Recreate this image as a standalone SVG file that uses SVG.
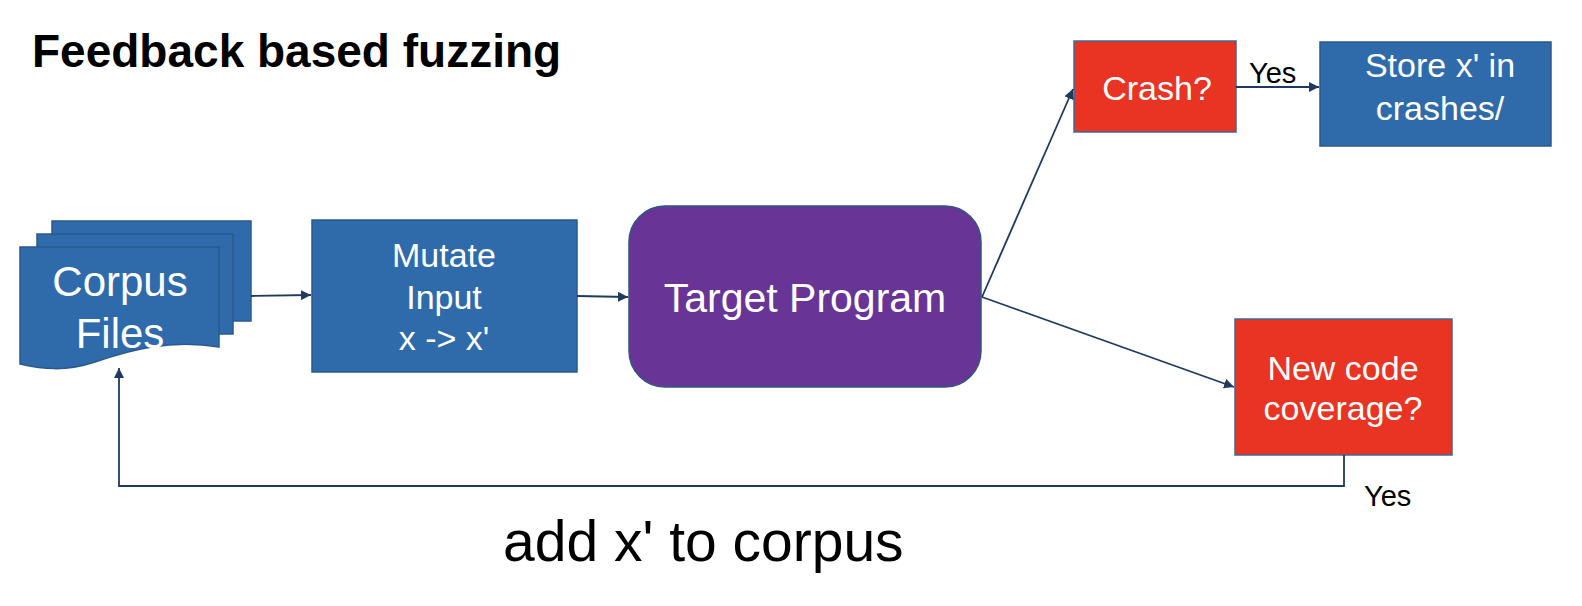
<svg xmlns="http://www.w3.org/2000/svg" width="1582" height="606" viewBox="0 0 1582 606">
<defs>
<style>
.blue{fill:#2F6BAA;stroke:#2A5A8C;stroke-width:1.5}
.red{fill:#E93323;stroke:#3F6A96;stroke-width:1.5}
.purple{fill:#683597;stroke:#2F5580;stroke-width:1.5}
.wt{fill:#FFFFFF;font-family:"Liberation Sans",Arial,sans-serif;text-anchor:middle}
.bt{fill:#000000;font-family:"Liberation Sans",Arial,sans-serif}
.conn{fill:none;stroke:#1E3A60;stroke-width:1.8}
</style>
<marker id="ah" viewBox="0 0 10 10" refX="10" refY="5" markerWidth="10" markerHeight="10" markerUnits="userSpaceOnUse" orient="auto">
<path d="M0,0 L10,5 L0,10 Z" fill="#1E3A60"/>
</marker>
</defs>
<rect width="1582" height="606" fill="#FFFFFF"/>
<text class="bt" x="32" y="67" font-size="46" font-weight="bold">Feedback based fuzzing</text>
<g id="corpus">
<rect class="blue" x="52" y="221" width="199" height="100"/>
<rect class="blue" x="37" y="234" width="196" height="100"/>
<path class="blue" d="M20,247 H219 V347 C170,339 130,350 95,362 C65,372 42,369 20,364 Z"/>
<text class="wt" x="120" y="296" font-size="42">Corpus</text>
<text class="wt" x="120" y="348" font-size="42">Files</text>
</g>
<g id="mutate">
<rect class="blue" x="312" y="220" width="265" height="152"/>
<text class="wt" x="444" y="267" font-size="34">Mutate</text>
<text class="wt" x="444" y="309" font-size="34">Input</text>
<text class="wt" x="444" y="350" font-size="34">x -&gt; x'</text>
</g>
<g id="target">
<rect class="purple" x="629" y="206" width="352" height="181" rx="36" ry="36"/>
<text class="wt" x="805" y="312" font-size="41">Target Program</text>
</g>
<g id="crash">
<rect class="red" x="1074" y="41" width="162" height="91"/>
<text class="wt" x="1157" y="100" font-size="34">Crash?</text>
</g>
<g id="store">
<rect class="blue" x="1320" y="42" width="231" height="104"/>
<text class="wt" x="1440" y="77" font-size="34">Store x' in</text>
<text class="wt" x="1440" y="120" font-size="34">crashes/</text>
</g>
<g id="coverage">
<rect class="red" x="1235" y="319" width="217" height="136"/>
<text class="wt" x="1343" y="380" font-size="34">New code</text>
<text class="wt" x="1343" y="420" font-size="34">coverage?</text>
</g>
<g id="connectors">
<line class="conn" x1="251" y1="296" x2="311" y2="295" marker-end="url(#ah)"/>
<line class="conn" x1="577" y1="296" x2="628" y2="297" marker-end="url(#ah)"/>
<line class="conn" x1="982" y1="297" x2="1073" y2="89" marker-end="url(#ah)"/>
<line class="conn" x1="982" y1="297" x2="1234" y2="387" marker-end="url(#ah)"/>
<line class="conn" x1="1236" y1="87" x2="1319" y2="87" marker-end="url(#ah)"/>
<polyline class="conn" points="1344,455 1344,486 119,486 119,368" marker-end="url(#ah)"/>
<text class="bt" x="1249" y="83" font-size="29">Yes</text>
<text class="bt" x="1364" y="506" font-size="29">Yes</text>
</g>
<text class="bt" x="503" y="561" font-size="57">add x' to corpus</text>
</svg>
